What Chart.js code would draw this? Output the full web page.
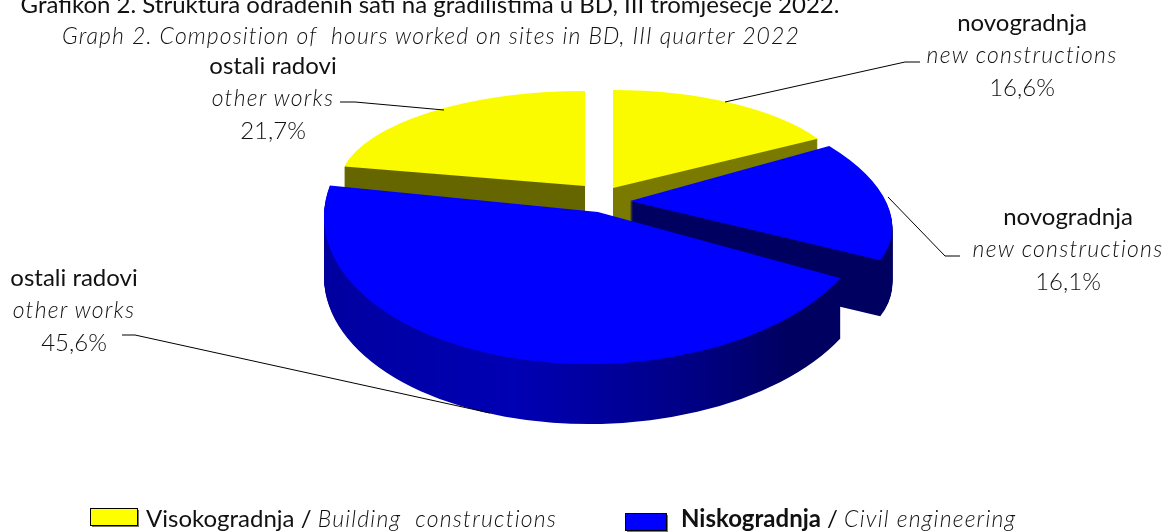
<!DOCTYPE html>
<html>
<head>
<meta charset="utf-8">
<style>
html, body { margin: 0; padding: 0; background: #fff; overflow: hidden; }
#wrap { position: relative; width: 1167px; height: 532px; overflow: hidden; font-family: Lato, sans-serif; color: #111; }
#pie_chart { position: absolute; left: 0; top: 0; }
.txt { position: absolute; white-space: pre; transform: translate(-50%, -50%); font-size: 24px; line-height: 28px; }
.it { font-style: italic; font-weight: 300; font-size: 23px; letter-spacing: 1.2px; }
.lt { font-weight: 300; }
.left { transform: translate(0, -50%); }
</style>
</head>
<body>
<div id="wrap">
  <canvas id="pie_chart" width="1167" height="532"></canvas>
  <div id="texts"></div>
</div>
<script src="https://cdn.jsdelivr.net/npm/chart.js@4"></script>
<script>
// データ
const categories = ['novogradnja', 'novogradnja', 'ostali radovi', 'ostali radovi'];
const categories_en = ['new constructions', 'new constructions', 'other works', 'other works'];
const values = [16.6, 16.1, 45.6, 21.7];
const top_colors = ['#fbfb00', '#0000ff', '#0000ff', '#fbfb00'];

// 扇形ごとの見た目 (x, y は頂点, rx, ry は楕円の半径, skew_x, skew_y は遠近の補正)
const slice_views = [
    { x: 613, y: 188, rx: 237, ry: 98, skew_x: 0, skew_y: 0, depth: 60, side: [[0, '#7a7a00'], [1, '#7a7a00']] },
    { x: 630, y: 201, rx: 258, ry: 118, skew_x: 47, skew_y: 5, depth: 56, side: [[0, '#000060'], [1, '#000060']] },
    { x: 598, y: 212, rx: 274, ry: 152, skew_x: 0, skew_y: -5, depth: 60, side: [[0, '#0000a0'], [0.35, '#0000b4'], [0.7, '#000080'], [0.85, '#000060'], [1, '#000060']] },
    { x: 585, y: 186, rx: 246, ry: 95, skew_x: 0, skew_y: 0, depth: 60, side: [[0, '#666600'], [1, '#666600']] }
];
// 奥から手前へ描く順番
const draw_order = [3, 0, 1, 2];

// ラベルの位置
const label_places = [
    { x: 1022, y: 22 },
    { x: 1068, y: 216 },
    { x: 74, y: 277 },
    { x: 273, y: 65 }
];
// 引き出し線
const leader_lines = [
    [[920, 62], [905, 62], [725, 102]],
    [[960, 256], [945, 256], [888, 197]],
    [[122, 335], [135, 335], [490, 413]],
    [[340, 102], [355, 102], [444, 110]]
];

// 文字を配置
function add_text(html, x, y, css, cls){
    const el = document.createElement('div');
    el.className = 'txt ' + (cls || '');
    el.innerHTML = html;
    el.style.left = x + 'px';
    el.style.top = y + 'px';
    if(css) el.style.cssText += css;
    document.getElementById('texts').appendChild(el);
}

add_text('Grafikon 2. Struktura odrađenih sati na gradilištima u BD, III tromjesečje 2022.', 430, 4);
add_text('Graph 2. Composition of  hours worked on sites in BD, III quarter 2022', 431, 35, 'letter-spacing:1.1px', 'it');
categories.forEach(function(name, i){
    const p = label_places[i];
    add_text(name, p.x, p.y);
    add_text(categories_en[i], p.x, p.y + 32, '', 'it');
    add_text(values[i].toFixed(1).replace('.', ',') + '%', p.x, p.y + 65, '', 'lt');
});
add_text('Visokogradnja / <i class="it">Building  constructions</i>', 146, 518, '', 'left');
add_text('<b>Niskogradnja</b> / <i class="it">Civil engineering</i>', 681, 518, '', 'left');

// 3D風に描画するプラグイン
const pie3d = {
    id: 'pie3d',
    beforeDatasetsDraw(chart){
        const ctx = chart.ctx;
        const arcs = chart.getDatasetMeta(0).data;
        draw_order.forEach(function(i){
            const arc = arcs[i];
            const view = slice_views[i];
            const r = arc.outerRadius;
            const grad = ctx.createLinearGradient(arc.x - r, 0, arc.x + r, 0);
            view.side.forEach(function(s){ grad.addColorStop(s[0], s[1]); });
            const top_options = arc.options;
            const side_options = Object.assign({}, top_options, { backgroundColor: grad });
            // 側面は少しずつ下にずらして重ねる
            for(let d = view.depth; d >= 0; d--){
                ctx.save();
                ctx.transform(view.rx / r, view.skew_y / r, view.skew_x / r, view.ry / r, view.x, view.y + d);
                ctx.translate(-arc.x, -arc.y);
                arc.options = d === 0 ? top_options : side_options;
                arc.draw(ctx);
                ctx.restore();
            }
            arc.options = top_options;
        });
        return false;
    },
    afterDraw(chart){
        const ctx = chart.ctx;
        // 引き出し線
        ctx.save();
        ctx.strokeStyle = '#000';
        ctx.lineWidth = 1;
        leader_lines.forEach(function(line){
            ctx.beginPath();
            line.forEach(function(p, k){
                if(k === 0) ctx.moveTo(p[0], p[1]); else ctx.lineTo(p[0], p[1]);
            });
            ctx.stroke();
        });
        // 凡例の四角
        ctx.fillStyle = '#777';
        ctx.fillRect(92, 510, 47, 17);
        ctx.fillRect(627, 515, 41, 17);
        ctx.fillStyle = '#ffff00';
        ctx.fillRect(90.5, 508.5, 47, 17);
        ctx.strokeRect(90.5, 508.5, 47, 17);
        ctx.fillStyle = '#0000ff';
        ctx.fillRect(625.5, 513.5, 41, 17);
        ctx.strokeRect(625.5, 513.5, 41, 17);
        ctx.restore();
    }
};

new Chart(document.getElementById('pie_chart').getContext('2d'), {
    type: 'pie',
    data: {
        labels: categories,
        datasets: [{
            data: values,
            backgroundColor: top_colors,
            borderWidth: 0
        }]
    },
    options: {
        responsive: false,
        animation: false,
        radius: 100,
        plugins: {
            legend: { display: false },
            tooltip: { enabled: false }
        }
    },
    plugins: [pie3d]
});
</script>
</body>
</html>
